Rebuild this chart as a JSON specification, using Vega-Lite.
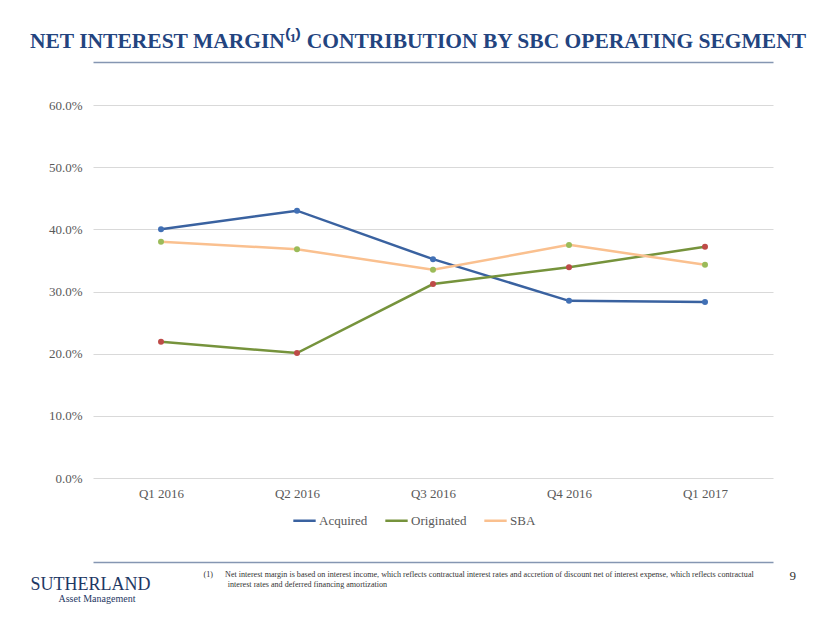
{
  "$schema": "https://vega.github.io/schema/vega-lite/v6.json",
  "width": 680,
  "height": 373,
  "autosize": "none",
  "padding": {"left": 93, "top": 105, "right": 57, "bottom": 145},
  "background": "white",
  "title": {
    "text": "NET INTEREST MARGIN⁽¹⁾ CONTRIBUTION BY SBC OPERATING SEGMENT",
    "anchor": "start",
    "frame": "group",
    "dx": -63,
    "offset": -7,
    "baseline": "alphabetic",
    "font": "Liberation Serif",
    "fontSize": 21.5,
    "fontWeight": "bold",
    "color": "#23447F"
  },
  "data": {
    "values": [
      {"quarter": "Q1 2016", "segment": "Acquired", "margin": 0.400},
      {"quarter": "Q2 2016", "segment": "Acquired", "margin": 0.430},
      {"quarter": "Q3 2016", "segment": "Acquired", "margin": 0.352},
      {"quarter": "Q4 2016", "segment": "Acquired", "margin": 0.285},
      {"quarter": "Q1 2017", "segment": "Acquired", "margin": 0.283},
      {"quarter": "Q1 2016", "segment": "Originated", "margin": 0.219},
      {"quarter": "Q2 2016", "segment": "Originated", "margin": 0.201},
      {"quarter": "Q3 2016", "segment": "Originated", "margin": 0.312},
      {"quarter": "Q4 2016", "segment": "Originated", "margin": 0.339},
      {"quarter": "Q1 2017", "segment": "Originated", "margin": 0.372},
      {"quarter": "Q1 2016", "segment": "SBA", "margin": 0.380},
      {"quarter": "Q2 2016", "segment": "SBA", "margin": 0.368},
      {"quarter": "Q3 2016", "segment": "SBA", "margin": 0.335},
      {"quarter": "Q4 2016", "segment": "SBA", "margin": 0.375},
      {"quarter": "Q1 2017", "segment": "SBA", "margin": 0.343}
    ]
  },
  "resolve": {"axis": {"x": "independent", "y": "independent"}},
  "layer": [
    {
      "mark": {"type": "line", "strokeWidth": 2.5},
      "encoding": {
        "x": {
          "field": "quarter",
          "type": "ordinal",
          "sort": ["Q1 2016", "Q2 2016", "Q3 2016", "Q4 2016", "Q1 2017"],
          "scale": {"type": "point", "padding": 0.5},
          "axis": {
            "orient": "bottom",
            "offset": 84,
            "domain": true,
            "domainColor": "#8596B2",
            "domainWidth": 1.5,
            "ticks": false,
            "grid": false,
            "labelPadding": -75,
            "labelFont": "Liberation Serif",
            "labelFontSize": 13,
            "labelColor": "#595959",
            "labelAngle": 0,
            "title": ["(1)\u00a0\u00a0\u00a0\u00a0\u00a0\u00a0Net interest margin is based on interest income, which reflects contractual interest rates and accretion of discount net of interest expense, which reflects contractual", "\u200b\u00a0\u00a0\u00a0\u00a0\u00a0\u00a0\u00a0\u00a0\u00a0\u00a0\u00a0\u00a0interest rates and deferred financing amortization"],
            "titleX": 110,
            "titleY": 14,
            "titleAlign": "left",
            "titleAnchor": "start",
            "titleBaseline": "alphabetic",
            "titleFont": "Liberation Serif",
            "titleFontSize": 8.1,
            "titleFontWeight": "normal",
            "titleColor": "#333333",
            "titleLineHeight": 10
          }
        },
        "y": {
          "field": "margin",
          "type": "quantitative",
          "scale": {"domain": [0, 0.6]},
          "axis": {
            "values": [0, 0.1, 0.2, 0.3, 0.4, 0.5, 0.6],
            "format": ".1%",
            "domain": false,
            "ticks": false,
            "grid": true,
            "gridColor": "#D9D9D9",
            "gridWidth": 1,
            "labelPadding": 11,
            "labelFont": "Liberation Serif",
            "labelFontSize": 13,
            "labelColor": "#595959",
            "title": "SUTHERLAND",
            "titleAngle": 0,
            "titleX": -63,
            "titleY": 484,
            "titleAlign": "left",
            "titleBaseline": "alphabetic",
            "titleFont": "Liberation Serif",
            "titleFontSize": 18,
            "titleFontWeight": "normal",
            "titleColor": "#1F3864"
          }
        },
        "color": {
          "field": "segment",
          "type": "nominal",
          "scale": {"domain": ["Acquired", "Originated", "SBA"], "range": ["#3A62A0", "#76933C", "#FAC08F"]},
          "legend": {
            "orient": "none",
            "legendX": 199,
            "legendY": 403,
            "direction": "horizontal",
            "title": null,
            "symbolType": "stroke",
            "symbolStrokeWidth": 2.5,
            "symbolSize": 500,
            "labelFont": "Liberation Serif",
            "labelFontSize": 13,
            "labelColor": "#595959",
            "labelOffset": 2,
            "columnPadding": 12
          }
        }
      }
    },
    {
      "mark": {"type": "point", "filled": true, "size": 36, "opacity": 1},
      "encoding": {
        "x": {
          "field": "quarter",
          "type": "ordinal",
          "sort": ["Q1 2016", "Q2 2016", "Q3 2016", "Q4 2016", "Q1 2017"],
          "axis": {
            "orient": "top",
            "offset": 43,
            "domain": true,
            "domainColor": "#8596B2",
            "domainWidth": 1.5,
            "ticks": false,
            "labels": false,
            "grid": false,
            "title": "9",
            "titleX": 696,
            "titleY": 517,
            "titleAlign": "left",
            "titleAnchor": "start",
            "titleBaseline": "alphabetic",
            "titleFont": "Liberation Serif",
            "titleFontSize": 13,
            "titleFontWeight": "normal",
            "titleColor": "#333333"
          }
        },
        "y": {
          "field": "margin",
          "type": "quantitative",
          "axis": {
            "orient": "right",
            "domain": false,
            "ticks": false,
            "labels": false,
            "grid": false,
            "title": "Asset Management",
            "titleAngle": 0,
            "titleX": -715,
            "titleY": 496,
            "titleAlign": "left",
            "titleBaseline": "alphabetic",
            "titleFont": "Liberation Serif",
            "titleFontSize": 10,
            "titleFontWeight": "normal",
            "titleColor": "#1F3864"
          }
        },
        "fill": {
          "field": "segment",
          "type": "nominal",
          "scale": {"domain": ["Acquired", "Originated", "SBA"], "range": ["#4170B5", "#BE4B48", "#9BBB59"]},
          "legend": null
        }
      }
    }
  ],
  "config": {
    "view": {"stroke": null}
  }
}
